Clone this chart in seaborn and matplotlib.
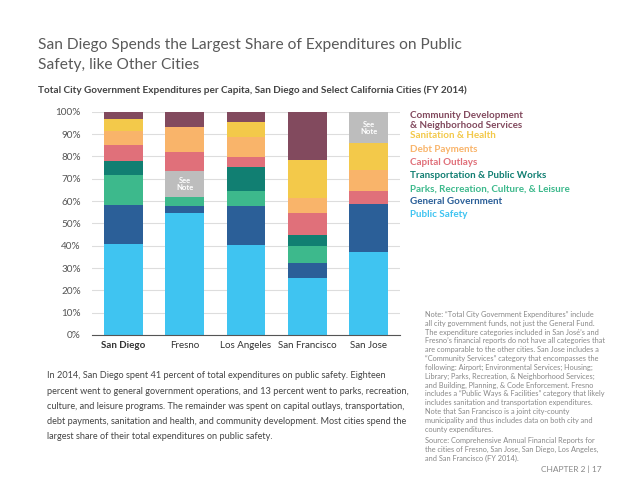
import numpy as np
import pandas as pd
import matplotlib
matplotlib.use("Agg")
import matplotlib.pyplot as plt
import seaborn as sns

cities = ["San Diego", "Fresno", "Los Angeles", "San Francisco", "San Jose"]

# share of total expenditures (%), bottom to top of each stack
public_safety = [40.7, 54.8, 40.3, 25.4, 37.3]
general_government = [17.5, 3.0, 17.5, 7.0, 21.5]
parks = [13.4, 4.1, 6.7, 7.5, 0.0]
transportation = [6.5, 0.0, 10.9, 4.9, 0.0]
see_note_mid = [0.0, 11.7, 0.0, 0.0, 0.0]
capital_outlays = [7.0, 8.2, 4.5, 9.7, 5.8]
debt_payments = [6.4, 11.5, 8.6, 7.0, 9.3]
sanitation = [5.1, 0.0, 6.7, 16.9, 11.9]
community_dev = [3.4, 6.7, 4.8, 21.6, 0.0]
see_note_top = [0.0, 0.0, 0.0, 0.0, 14.2]

layers = [
    ("Public Safety", public_safety, "#3fc4f1"),
    ("General Government", general_government, "#2b5f98"),
    ("Parks, Recreation, Culture, & Leisure", parks, "#3db98c"),
    ("Transportation & Public Works", transportation, "#117f72"),
    ("See Note (mid)", see_note_mid, "#bdbdbd"),
    ("Capital Outlays", capital_outlays, "#e0707a"),
    ("Debt Payments", debt_payments, "#f9b46a"),
    ("Sanitation & Health", sanitation, "#f3c94a"),
    ("Community Development\n& Neighborhood Services", community_dev, "#824a5e"),
    ("See Note (top)", see_note_top, "#bdbdbd"),
]

# cumulative tops per layer, so each layer can be drawn as one seaborn bar set
rows = []
cum = np.zeros(len(cities))
for name, vals, col in layers:
    base = cum.copy()
    cum = cum + np.array(vals)
    for c, b, t in zip(cities, base, cum):
        rows.append({"city": c, "layer": name, "bottom": b, "top": t})
df = pd.DataFrame(rows)

W, H = 638, 497
fig = plt.figure(figsize=(W / 100, H / 100), dpi=100)
FONT = ["Lato", "DejaVu Sans"]
plt.rcParams["font.family"] = FONT

def px(x, y):
    return x / W, 1 - y / H

ax = fig.add_axes([92 / W, 1 - 335 / H, (400 - 92) / W, (335 - 111.7) / H])

# draw from the top layer down so lower layers overlay upper cumulative bars
for name, vals, col in reversed(layers):
    sub = df[df["layer"] == name]
    sns.barplot(data=sub, x="city", y="top", color=col, width=0.63,
                saturation=1, ax=ax, order=cities, zorder=2)

ax.set_xlim(-0.51, 4.51)
ax.set_ylim(0, 100)
ax.set_yticks(np.arange(0, 101, 10))
ax.set_yticklabels([f"{v}%" for v in range(0, 101, 10)], color="#555555", fontsize=7.2)
ax.yaxis.grid(True, color="#dddddd", linewidth=0.8, zorder=0)
ax.set_axisbelow(True)
ax.tick_params(axis="y", length=0, pad=8)
ax.tick_params(axis="x", length=0, pad=4)
ax.set_xticks(range(len(cities)))
ax.set_xticklabels(cities, fontsize=7, color="#333333")
ax.get_xticklabels()[0].set_fontweight("bold")
ax.set_xlabel("")
ax.set_ylabel("")
for s in ["top", "right", "left"]:
    ax.spines[s].set_visible(False)
ax.spines["bottom"].set_color("#555555")
ax.spines["bottom"].set_linewidth(0.8)

# "See Note" labels in the grey segments
for name in ["See Note (mid)", "See Note (top)"]:
    sub = df[df["layer"] == name]
    for i, r in enumerate(sub.itertuples()):
        if r.top - r.bottom > 0:
            ax.text(i, (r.top + r.bottom) / 2, "See\nNote", ha="center", va="center",
                    color="white", fontsize=5.5, fontweight="bold", linespacing=1.0, zorder=5)

# titles
fig.text(*px(38, 45), "San Diego Spends the Largest Share of Expenditures on Public",
         fontsize=11.2, color="#5a5a5a", va="center")
fig.text(*px(38, 65), "Safety, like Other Cities",
         fontsize=11.2, color="#5a5a5a", va="center")
fig.text(*px(38, 90), "Total City Government Expenditures per Capita, San Diego and Select California Cities (FY 2014)",
         fontsize=7.2, color="#444444", fontweight="bold", va="center")

# legend as coloured text
legend_items = [
    ("Community Development", "#824a5e", 115.7),
    ("& Neighborhood Services", "#824a5e", 125.7),
    ("Sanitation & Health", "#f3c94a", 135.3),
    ("Debt Payments", "#f9b46a", 150.0),
    ("Capital Outlays", "#e0707a", 162.7),
    ("Transportation & Public Works", "#117f72", 175.3),
    ("Parks, Recreation, Culture, & Leisure", "#3db98c", 188.7),
    ("General Government", "#2b5f98", 201.3),
    ("Public Safety", "#3fc4f1", 214.3),
]
for txt, col, y in legend_items:
    fig.text(*px(410, y), txt, color=col, fontsize=7.1, fontweight="bold", va="center")

body = [
    "In 2014, San Diego spent 41 percent of total expenditures on public safety. Eighteen",
    "percent went to general government operations, and 13 percent went to parks, recreation,",
    "culture, and leisure programs. The remainder was spent on capital outlays, transportation,",
    "debt payments, sanitation and health, and community development. Most cities spend the",
    "largest share of their total expenditures on public safety.",
]
for i, line in enumerate(body):
    fig.text(*px(47, 376 + i * 15.08), line, fontsize=6.6, color="#444444", va="center")

note = [
    "Note: \u201cTotal City Government Expenditures\u201d include",
    "all city government funds, not just the General Fund.",
    "The expenditure categories included in San Jos\u00e9\u2019s and",
    "Fresno\u2019s financial reports do not have all categories that",
    "are comparable to the other cities. San Jose includes a",
    "\u201cCommunity Services\u201d category that encompasses the",
    "following: Airport; Environmental Services; Housing;",
    "Library; Parks, Recreation, & Neighborhood Services;",
    "and Building, Planning, & Code Enforcement. Fresno",
    "includes a \u201cPublic Ways & Facilities\u201d category that likely",
    "includes sanitation and transportation expenditures.",
    "Note that San Francisco is a joint city-county",
    "municipality and thus includes data on both city and",
    "county expenditures.",
]
for i, line in enumerate(note):
    fig.text(*px(425, 314.3 + i * 8.85), line, fontsize=5.3, color="#888888", va="center")

source = [
    "Source: Comprehensive Annual Financial Reports for",
    "the cities of Fresno, San Jose, San Diego, Los Angeles,",
    "and San Francisco (FY 2014).",
]
for i, line in enumerate(source):
    fig.text(*px(425, 440.7 + i * 9.0), line, fontsize=5.3, color="#888888", va="center")

fig.text(*px(602, 469), "CHAPTER 2 | 17", fontsize=6.0, color="#888888", ha="right", va="center")

fig.savefig("out.png", dpi=100)
